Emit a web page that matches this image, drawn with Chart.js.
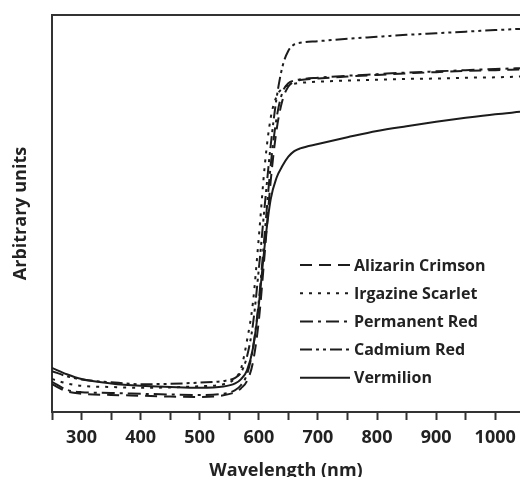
<!DOCTYPE html>
<html>
<head>
<meta charset="utf-8">
<script src="https://cdn.jsdelivr.net/npm/chart.js@4/dist/chart.umd.min.js"></script>
<style>
  html, body { margin: 0; padding: 0; background: #fff; }
  #wrap { width: 520px; height: 477px; position: relative; }
</style>
</head>
<body>
<div id="wrap"><canvas id="c" width="520" height="477"></canvas></div>
<script>
// Wavelength grid (nm)
const wavelengths = [250, 275, 300, 350, 400, 450, 500, 540, 560, 570, 580, 590, 600, 610, 620, 630, 640, 650, 660, 670, 700, 750, 800, 850, 900, 950, 1000, 1042];

// Series values (arbitrary units)
const alizarinCrimson = [7.0, 5.2, 4.6, 4.3, 4.1, 3.9, 3.8, 4.2, 5.0, 6.0, 7.8, 12.5, 23, 40, 58, 71, 78.5, 82, 83.2, 83.6, 84.0, 84.5, 84.9, 85.3, 85.6, 85.9, 86.1, 86.3];
const irgazineScarlet = [8.3, 7.2, 6.6, 6.3, 6.1, 6.2, 6.5, 7.0, 8.5, 11, 18, 27.5, 44, 62, 74, 79.5, 81.5, 82.3, 82.7, 82.9, 83.2, 83.5, 83.7, 83.9, 84.0, 84.2, 84.3, 84.5];
const permanentRed = [7.6, 5.6, 5.0, 4.8, 4.6, 4.4, 4.3, 4.6, 5.5, 6.8, 9.5, 16, 28, 45, 62, 74, 80.5, 82.8, 83.5, 83.8, 84.2, 84.7, 85.1, 85.5, 85.8, 86.1, 86.4, 86.6];
const cadmiumRed = [10.3, 9.0, 8.2, 7.5, 7.0, 7.1, 7.4, 7.8, 8.6, 10, 14, 22, 36, 52, 67, 79, 87, 91, 92.6, 93.0, 93.4, 94.0, 94.5, 95.0, 95.4, 95.8, 96.2, 96.5];
const vermilion = [11.1, 9.5, 8.3, 7.2, 6.6, 6.3, 6.1, 6.4, 7.2, 8.3, 10.5, 16, 27, 42, 53.5, 59, 62, 64.3, 65.7, 66.4, 67.5, 69.2, 70.8, 72.0, 73.1, 74.1, 75.0, 75.6];

// Tick positions (nm) and labelled ticks
const xTickValues = [250, 300, 350, 400, 450, 500, 550, 600, 650, 700, 750, 800, 850, 900, 950, 1000];
const xTickLabels = [300, 400, 500, 600, 700, 800, 900, 1000];

const seriesNames = ['Alizarin Crimson', 'Irgazine Scarlet', 'Permanent Red', 'Cadmium Red', 'Vermilion'];
const seriesValues = [alizarinCrimson, irgazineScarlet, permanentRed, cadmiumRed, vermilion];
const seriesDashes = [[12, 7], [3, 6], [13, 5, 3, 5], [12, 4, 3, 4, 3, 4], []];

const ink = '#1c1c1c';
const axisInk = '#333333';
const fontFamily = '"Open Sans", "Noto Sans", sans-serif';

const datasets = seriesNames.map((name, i) => ({
  label: name,
  data: wavelengths.map((w, j) => ({ x: w, y: seriesValues[i][j] })),
  borderColor: ink,
  backgroundColor: ink,
  borderWidth: 2,
  borderDash: seriesDashes[i],
  pointRadius: 0,
  fill: false,
  cubicInterpolationMode: 'monotone'
}));

// Legend drawn inside the plot area
const insideLegend = {
  id: 'insideLegend',
  afterDatasetsDraw(chart) {
    const ctx = chart.ctx;
    const x0 = 300, x1 = 350, y0 = 265, dy = 28.2;
    ctx.save();
    ctx.font = 'bold 16px ' + fontFamily;
    ctx.textBaseline = 'middle';
    ctx.textAlign = 'left';
    chart.data.datasets.forEach((ds, i) => {
      const y = y0 + i * dy;
      ctx.strokeStyle = ds.borderColor;
      ctx.lineWidth = 2;
      ctx.setLineDash(ds.borderDash || []);
      ctx.beginPath();
      ctx.moveTo(x0, y);
      ctx.lineTo(x1, y);
      ctx.stroke();
      ctx.setLineDash([]);
      ctx.fillStyle = '#222';
      ctx.fillText(ds.label, x1 + 4, y + 1);
    });
    ctx.restore();
  }
};

// Top frame line
const topFrame = {
  id: 'topFrame',
  afterDraw(chart) {
    const { ctx, chartArea } = chart;
    ctx.save();
    ctx.strokeStyle = axisInk;
    ctx.lineWidth = 2;
    ctx.beginPath();
    ctx.moveTo(chartArea.left - 1, chartArea.top);
    ctx.lineTo(chartArea.right, chartArea.top);
    ctx.stroke();
    ctx.restore();
  }
};

new Chart(document.getElementById('c'), {
  type: 'line',
  data: { datasets },
  options: {
    responsive: false,
    animation: false,
    layout: { padding: { top: 15, left: 0, right: 0, bottom: 0 } },
    plugins: { legend: { display: false }, tooltip: { enabled: false } },
    scales: {
      x: {
        type: 'linear',
        min: 250,
        max: 1042,
        afterBuildTicks(scale) {
          scale.ticks = xTickValues.map(v => ({ value: v }));
        },
        afterFit(scale) {
          scale.height = 65;
          scale.paddingLeft = 0;
          scale.paddingRight = 0;
        },
        ticks: {
          autoSkip: false,
          includeBounds: false,
          maxRotation: 0,
          padding: 7,
          color: '#222',
          font: { family: fontFamily, size: 18, weight: 'bold' },
          callback: v => xTickLabels.includes(v) ? String(v) : ''
        },
        grid: { drawOnChartArea: false, drawTicks: true, tickLength: 8, tickWidth: 2, tickColor: axisInk },
        border: { display: true, color: axisInk, width: 2 },
        title: {
          display: true,
          text: 'Wavelength (nm)',
          color: '#222',
          font: { family: fontFamily, size: 18, weight: 'bold', lineHeight: 1.0 },
          padding: { top: 0, bottom: -3 }
        }
      },
      y: {
        type: 'linear',
        min: 0,
        max: 100,
        afterFit(scale) { scale.width = 52; },
        ticks: { display: false },
        grid: { display: false, drawTicks: false },
        border: { display: true, color: axisInk, width: 2 },
        title: {
          display: true,
          text: 'Arbitrary units',
          color: '#222',
          font: { family: fontFamily, size: 18, weight: 'bold', lineHeight: 1.0 },
          padding: { top: 12, bottom: 0 }
        }
      }
    }
  },
  plugins: [insideLegend, topFrame]
});
</script>
</body>
</html>
